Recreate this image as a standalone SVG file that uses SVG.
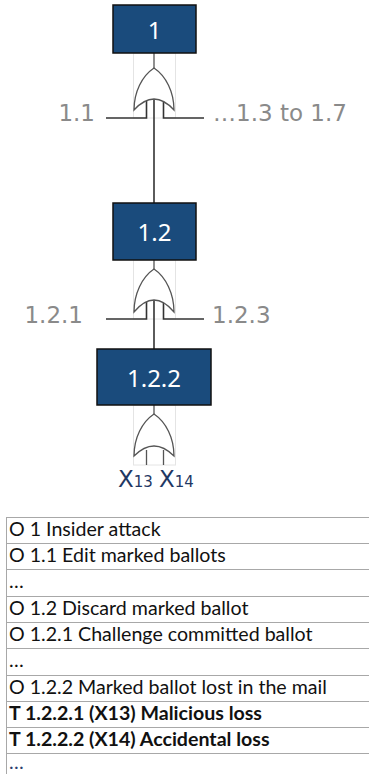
<svg xmlns="http://www.w3.org/2000/svg" width="369" height="774" viewBox="0 0 369 774">
<defs>
<style>
.box{fill:#1a4b7c;stroke:#111;stroke-width:1.5}
.boxt{font-family:"Noto Sans",sans-serif;font-size:24px;fill:#fff;text-anchor:middle}
.gate{fill:#fff;stroke:#555;stroke-width:1.3}
.frame{fill:none;stroke:#e4e4e4;stroke-width:1}
.wire{fill:none;stroke:#333;stroke-width:1.6}
.stem{fill:none;stroke:#555;stroke-width:1.3}
.lbl{font-family:"DejaVu Sans",sans-serif;font-size:23px;fill:#8a8a8a}
.x{font-family:"DejaVu Sans",sans-serif;font-size:23px;fill:#1f3864}
.row{stroke:#a8a8a8;stroke-width:1}
.tt{font-family:Lato,"Liberation Sans",sans-serif;font-size:19.6px;fill:#111}
.b{font-weight:bold}
</style>
</defs>

<g id="connectors">
<rect class="frame" x="133.5" y="53" width="42" height="65"/>
<line class="stem" x1="154" y1="53" x2="154" y2="68"/>
<path class="wire" d="M106 118 H146.5 V100"/>
<path class="wire" d="M163.5 100 V118 H204"/>
<line class="wire" x1="154" y1="99" x2="154" y2="203"/>
<rect class="frame" x="133.5" y="260" width="42" height="59"/>
<line class="stem" x1="154" y1="260" x2="154" y2="269"/>
<path class="wire" d="M106 319 H146.5 V302"/>
<path class="wire" d="M163.5 302 V319 H204"/>
<line class="wire" x1="154" y1="300" x2="154" y2="349"/>
<rect class="frame" x="133.5" y="405" width="42" height="60"/>
<line class="stem" x1="154" y1="405" x2="154" y2="414"/>
</g>

<g id="gate1">
<path class="gate" d="M134 110 C134 92 142 76 154 68 C166 76 174 92 174 110 Q154 88 134 110 Z"/>
</g>
<g id="gate2">
<path class="gate" d="M134 312 C134 294 142 277 154 269 C166 277 174 294 174 312 Q154 288 134 312 Z"/>
</g>
<g id="gate3">
<path class="gate" d="M134 456 C134 438 142 422 154 414 C166 422 174 438 174 456 Q154 436 134 456 Z"/>
<line class="stem" x1="146.5" y1="450" x2="146.5" y2="465"/>
<line class="stem" x1="163.5" y1="450" x2="163.5" y2="465"/>
</g>

<g id="node-1">
<rect class="box" x="113" y="5" width="83" height="48"/>
<text class="boxt" x="154.5" y="39">1</text>
</g>
<g id="node-1.2">
<rect class="box" x="113" y="203" width="83" height="57"/>
<text class="boxt" x="154.5" y="241">1.2</text>
</g>
<g id="node-1.2.2">
<rect class="box" x="97" y="349" width="114" height="56"/>
<text class="boxt" x="154" y="387">1.2.2</text>
</g>

<g id="labels">
<text class="lbl" x="95" y="121" text-anchor="end">1.1</text>
<text class="lbl" x="213" y="121">…1.3 to 1.7</text>
<text class="lbl" x="83" y="323" text-anchor="end">1.2.1</text>
<text class="lbl" x="212" y="323">1.2.3</text>
<text class="x" x="118" y="487">X<tspan font-size="15">13</tspan></text>
<text class="x" x="159" y="487">X<tspan font-size="15">14</tspan></text>
</g>

<g id="table">
<line class="row" x1="6.5" y1="517" x2="6.5" y2="774"/>
<line class="row" x1="6" y1="517.5" x2="369" y2="517.5"/>
<line class="row" x1="6" y1="543.5" x2="369" y2="543.5"/>
<line class="row" x1="6" y1="569.5" x2="369" y2="569.5"/>
<line class="row" x1="6" y1="596.5" x2="369" y2="596.5"/>
<line class="row" x1="6" y1="622.5" x2="369" y2="622.5"/>
<line class="row" x1="6" y1="648.5" x2="369" y2="648.5"/>
<line class="row" x1="6" y1="675.5" x2="369" y2="675.5"/>
<line class="row" x1="6" y1="701.5" x2="369" y2="701.5"/>
<line class="row" x1="6" y1="727.5" x2="369" y2="727.5"/>
<line class="row" x1="6" y1="753.5" x2="369" y2="753.5"/>
<text class="tt" x="9" y="536">O 1 Insider attack</text>
<text class="tt" x="9" y="562">O 1.1 Edit marked ballots</text>
<text class="tt" x="9" y="588">…</text>
<text class="tt" x="9" y="615">O 1.2 Discard marked ballot</text>
<text class="tt" x="9" y="641">O 1.2.1 Challenge committed ballot</text>
<text class="tt" x="9" y="667">…</text>
<text class="tt" x="9" y="694">O 1.2.2 Marked ballot lost in the mail</text>
<text class="tt b" x="9" y="720">T 1.2.2.1 (X13) Malicious loss</text>
<text class="tt b" x="9" y="746">T 1.2.2.2 (X14) Accidental loss</text>
<text class="tt" x="9" y="769" style="fill:#2a3f6f">…</text>
</g>
</svg>
